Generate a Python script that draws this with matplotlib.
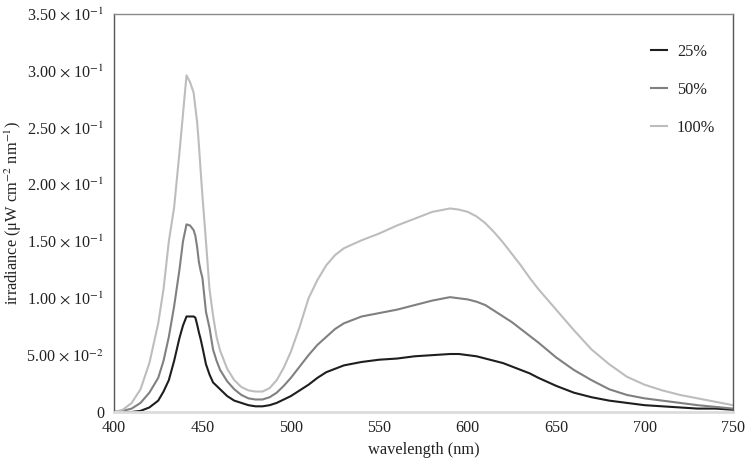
import matplotlib
matplotlib.use("Agg")
import matplotlib.pyplot as plt
from matplotlib.ticker import FixedLocator, FixedFormatter

plt.rcParams['font.family'] = ['Liberation Serif', 'DejaVu Serif']
plt.rcParams['mathtext.fontset'] = 'stix'

wavelength = [400, 405, 410, 415, 420, 425, 428, 431, 434, 437, 439, 441, 443, 445, 446, 447, 448, 449, 450,
              452, 454, 456, 458, 460, 464, 468, 472, 476, 480, 484, 488, 492, 496, 500, 505, 510, 515, 520,
              525, 530, 540, 550, 560, 570, 580, 590, 595, 600, 605, 610, 615, 620, 625, 630, 635, 640, 650,
              660, 670, 680, 690, 700, 710, 720, 730, 740, 750]

irr_100 = [0.000, 0.002, 0.008, 0.020, 0.043, 0.078, 0.108, 0.150, 0.180, 0.228, 0.262, 0.296, 0.290, 0.281,
           0.268, 0.255, 0.235, 0.212, 0.190, 0.150, 0.108, 0.085, 0.066, 0.054, 0.038, 0.028, 0.022, 0.019,
           0.018, 0.018, 0.021, 0.028, 0.039, 0.053, 0.075, 0.100, 0.116, 0.129, 0.138, 0.144, 0.151, 0.157,
           0.164, 0.170, 0.176, 0.179, 0.178, 0.176, 0.172, 0.166, 0.158, 0.149, 0.139, 0.129, 0.118, 0.108,
           0.090, 0.072, 0.055, 0.042, 0.031, 0.024, 0.019, 0.015, 0.012, 0.009, 0.006]

irr_50 = [0.000, 0.001, 0.003, 0.008, 0.017, 0.030, 0.045, 0.066, 0.093, 0.125, 0.150, 0.165, 0.164, 0.160,
          0.155, 0.145, 0.132, 0.124, 0.118, 0.088, 0.074, 0.055, 0.045, 0.037, 0.027, 0.020, 0.015, 0.012,
          0.011, 0.011, 0.013, 0.017, 0.023, 0.030, 0.040, 0.050, 0.059, 0.066, 0.073, 0.078, 0.084, 0.087,
          0.090, 0.094, 0.098, 0.101, 0.100, 0.099, 0.097, 0.094, 0.089, 0.084, 0.079, 0.073, 0.067, 0.061,
          0.048, 0.037, 0.028, 0.020, 0.015, 0.012, 0.010, 0.008, 0.006, 0.0045, 0.003]

irr_25 = [0.000, 0.000, 0.000, 0.001, 0.004, 0.010, 0.018, 0.028, 0.045, 0.065, 0.076, 0.084, 0.084, 0.084,
          0.083, 0.077, 0.070, 0.064, 0.057, 0.042, 0.033, 0.026, 0.023, 0.020, 0.014, 0.010, 0.008, 0.006,
          0.005, 0.005, 0.006, 0.008, 0.011, 0.014, 0.019, 0.024, 0.030, 0.035, 0.038, 0.041, 0.044, 0.046,
          0.047, 0.049, 0.050, 0.051, 0.051, 0.050, 0.049, 0.047, 0.045, 0.043, 0.040, 0.037, 0.034, 0.030,
          0.023, 0.017, 0.013, 0.010, 0.008, 0.006, 0.005, 0.004, 0.003, 0.003, 0.002]

series_labels = ['25%', '50%', '100%']
series_colors = ['#1e1e1e', '#808080', '#bdbdbd']

y_ticks = [0, 0.05, 0.10, 0.15, 0.20, 0.25, 0.30, 0.35]
y_tick_labels = ['0',
                 r'5.00 $\times$ 10$^{-2}$',
                 r'1.00 $\times$ 10$^{-1}$',
                 r'1.50 $\times$ 10$^{-1}$',
                 r'2.00 $\times$ 10$^{-1}$',
                 r'2.50 $\times$ 10$^{-1}$',
                 r'3.00 $\times$ 10$^{-1}$',
                 r'3.50 $\times$ 10$^{-1}$']
x_ticks = [400, 450, 500, 550, 600, 650, 700, 750]

fig = plt.figure(figsize=(7.46, 4.59), dpi=100)
ax = fig.add_axes([114/746, 1 - 412/459, (733-114)/746, (412-14)/459])

for vals, lab, col in zip([irr_25, irr_50, irr_100], series_labels, series_colors):
    ax.plot(wavelength, vals, color=col, lw=1.5, label=lab)

ax.set_xlim(400, 750)
ax.set_ylim(0, 0.35)
ax.xaxis.set_major_locator(FixedLocator(x_ticks))
ax.set_xticklabels([str(v) for v in x_ticks])
ax.yaxis.set_major_locator(FixedLocator(y_ticks))
ax.yaxis.set_major_formatter(FixedFormatter(y_tick_labels))
ax.tick_params(axis='both', length=0, labelsize=11.6, colors='#222222')
ax.tick_params(axis='y', pad=7)
ax.tick_params(axis='x', pad=6)

for side in ['left', 'right']:
    ax.spines[side].set_color('#555555')
    ax.spines[side].set_linewidth(1.0)
ax.spines['top'].set_color('#8a8a8a')
ax.spines['top'].set_linewidth(1.0)
ax.spines['bottom'].set_color('#dcdcdc')
ax.spines['bottom'].set_linewidth(2.0)

ax.set_xlabel('wavelength (nm)', fontsize=11.8, color='#222222', labelpad=4)
ax.set_ylabel('irradiance (μW cm$^{-2}$ nm$^{-1}$)', fontsize=11.8, color='#222222')
ax.yaxis.set_label_coords(-0.146, 0.5)

leg = ax.legend(loc='upper right', frameon=False, fontsize=11.8, handlelength=1.0,
                labelspacing=1.35, bbox_to_anchor=(0.995, 0.962), handletextpad=0.6)
for t in leg.get_texts():
    t.set_color('#222222')

fig.savefig('out.png', dpi=100)
